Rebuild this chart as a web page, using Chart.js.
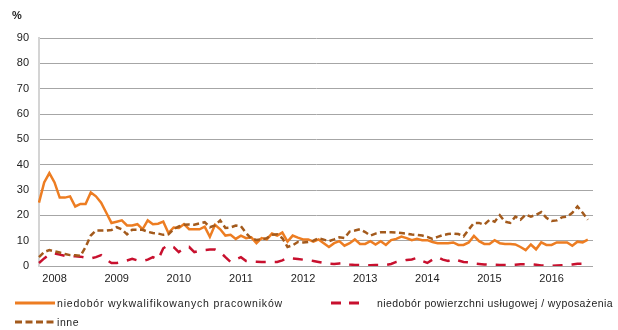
<!DOCTYPE html>
<html>
<head>
<meta charset="utf-8">
<script src="https://cdn.jsdelivr.net/npm/chart.js@4"></script>
<style>
  body { margin: 0; background: #fff; font-family: "Liberation Sans", Arial, sans-serif; }
  #wrap { position: relative; width: 618px; height: 330px; }
  #unit { position: absolute; left: 12px; top: 9px; font-size: 11px; font-weight: bold; color: #222; }
  .leg { position: absolute; height: 14px; font-size: 10.5px; color: #222; letter-spacing: 0.6px; white-space: nowrap; }
  .leg svg { position: absolute; left: 0; top: 0; }
  .leg span { position: absolute; top: 0; line-height: 14px; }
</style>
</head>
<body>
<div id="wrap">
  <canvas id="chart" width="618" height="330"></canvas>
  <div id="unit">%</div>
  <div class="leg" style="left:15px;top:296px;">
    <svg width="40" height="14"><line x1="0" y1="7" x2="40" y2="7" stroke="#ED7D22" stroke-width="3"/></svg>
    <span style="left:42px;letter-spacing:0.8px">niedobór wykwalifikowanych pracowników</span>
  </div>
  <div class="leg" style="left:331px;top:296px;">
    <svg width="34" height="14"><line x1="0" y1="7" x2="34" y2="7" stroke="#C8102E" stroke-width="3" stroke-dasharray="10,8"/></svg>
    <span style="left:46px;letter-spacing:0.4px">niedobór powierzchni usługowej / wyposażenia</span>
  </div>
  <div class="leg" style="left:15px;top:315px;">
    <svg width="40" height="14"><line x1="0" y1="7" x2="40" y2="7" stroke="#A35A1C" stroke-width="3" stroke-dasharray="7,3.5"/></svg>
    <span style="left:42px">inne</span>
  </div>
</div>
<script>
// monthly categories, Oct 2007 - Sep 2016
var months = []
for (var y = 2007; y <= 2016; y++) {
  for (var m = 1; m <= 12; m++) {
    if (y == 2007 && m < 10) continue
    if (y == 2016 && m > 9) continue
    months.push(y + "-" + (m < 10 ? "0" + m : m))
  }
}

var yTicks = [0, 10, 20, 30, 40, 50, 60, 70, 80, 90]

// niedobór wykwalifikowanych pracowników
var skilled = [
  25, 33, 36.7, 33, 27, 27, 27.5, 23.5, 24.5, 24.5,
  29, 27.5, 25, 21, 17, 17.5, 18, 16, 16, 16.5,
  14.5, 18, 16.5, 16.7, 17.5, 13, 15.2, 15, 16.5, 14.5,
  14.5, 14.5, 15.5, 11.5, 16.3, 14.5, 12, 12.3, 10.7, 12,
  11, 11.3, 9, 11, 10.5, 12.8, 12, 13.2, 9.6, 12,
  11.2, 10.5, 10.5, 9.6, 10.5,
  9, 7.5, 9, 9.8, 8, 9, 10.5, 8.7, 8.7, 9.8,
  8.5, 9.8, 8.3, 10.2, 10.7, 11.6, 11, 10.2, 10.7, 10.2,
  10.2, 9.5, 9, 9, 9, 9.3, 8.3, 8.3, 9.3, 11.9,
  9.8, 8.7, 8.7, 10.2, 9, 8.7, 8.7, 8.5, 7.5, 6.3,
  8.5, 6.6, 9.3, 8.3, 8.3, 9.3, 9.3, 9.3, 8, 9.6,
  9.3, 10.4
]

// niedobór powierzchni usługowej / wyposażenia
var space = [
  1.2, 3, 4.5, 5, 4.5, 4, 4, 3.8, 3.7, 3.3,
  3, 3.5, 4.3, 2.5, 1.2, 1.2, 1.6, 2.2, 2.8, 2.2,
  2, 2.5, 3.5, 2.5, 7, 8.3, 7.5, 5.5, 7, 7.5,
  5.5, 6, 6.3, 6.5, 6.5, 5.5, 3.5, 1.6, 2.6, 3.5,
  2, 1.8, 1.7, 1.6, 1.6, 1.6, 1.6, 2.2, 3.2, 3,
  2.8, 2.5, 2.4, 2, 1.6,
  1.2, 0.9, 0.8, 1, 1.2, 0.6, 0.4, 0.4, 0.4, 0.3,
  0.4, 0.4, 0.4, 0.8, 1.6, 2, 2.4, 2.6, 3.2, 2,
  1.2, 2.5, 3.5, 2.5, 2, 2.8, 2.2, 1.6, 1.5, 1,
  0.8, 0.6, 0.5, 0.5, 0.4, 0.4, 0.4, 0.5, 0.7, 0.7,
  0.7, 0.5, 0.2, 0.1, 0.1, 0.2, 0.3, 0.4, 0.6, 0.9,
  0.9, 0.9
]

// inne
var other = [
  3.5, 5.5, 6.3, 5.8, 5.3, 4.7, 4.3, 4.2, 4, 7.5,
  12, 14, 14, 14, 14.2, 15.3, 14.5, 12.5, 14.3, 14.3,
  14.3, 13.5, 13, 12.8, 12.3, 12.5, 14.5, 15.6, 16.3, 16.4,
  16.3, 16.8, 17.3, 15.3, 16, 18, 15, 15.2, 16, 15.7,
  13, 10.8, 10.3, 10.5, 11, 12.3, 12.5, 11, 7.5, 8.2,
  9.5, 9.3, 9.5, 10, 11,
  10.4, 9.8, 10.5, 11.3, 11, 13.6, 14, 14.5, 13.4, 12,
  12.8, 13.3, 13.3, 13.3, 13.2, 13, 12.8, 12.4, 12.3, 12,
  11.5, 10.7, 11.5, 12.2, 12.6, 12.8, 12.6, 11.7, 14.4, 17,
  17, 16.3, 18.2, 17.5, 20, 17.5, 17, 19.5, 18.3, 20.3,
  19.5, 20.2, 21.3, 19, 17.8, 18, 19.2, 19.5, 21, 23.5,
  21, 18.3
]

var ctx = document.getElementById("chart").getContext("2d")
var chart = new Chart(ctx, {
  type: "line",
  data: {
    labels: months,
    datasets: [
      {
        label: "niedobór wykwalifikowanych pracowników",
        data: skilled,
        borderColor: "#ED7D22",
        borderWidth: 2.5,
        order: 3,
      },
      {
        label: "niedobór powierzchni usługowej / wyposażenia",
        data: space,
        borderColor: "#C8102E",
        borderWidth: 2.5,
        borderDash: [10, 9],
        order: 2,
      },
      {
        label: "inne",
        data: other,
        borderColor: "#A35A1C",
        borderWidth: 2.5,
        borderDash: [6, 3.5],
        order: 1,
      },
    ],
  },
  options: {
    responsive: false,
    animation: false,
    layout: { padding: { top: 38, right: 25, bottom: 0, left: 0 } },
    elements: { point: { radius: 0 }, line: { tension: 0 } },
    plugins: { legend: { display: false }, tooltip: { enabled: false } },
    scales: {
      x: {
        offset: false,
        grid: { display: false, drawTicks: false },
        border: { display: false },
        ticks: {
          autoSkip: false,
          maxRotation: 0,
          padding: 6,
          color: "#222",
          font: { family: "Liberation Sans, Arial, sans-serif", size: 11 },
          callback: function (val, i) {
            var lab = months[i]
            return lab.slice(5) == "01" ? lab.slice(0, 4) : ""
          },
        },
        afterFit: function (scale) { scale.height = 64 },
      },
      y: {
        min: 0,
        max: 90,
        afterBuildTicks: function (scale) {
          scale.ticks = yTicks.map(function (v) { return { value: v } })
        },
        grid: { color: "#a6a6a6", lineWidth: 1, drawTicks: false },
        border: { display: true, color: "#d4d4d4", width: 2 },
        ticks: {
          padding: 10,
          color: "#222",
          font: { family: "Liberation Sans, Arial, sans-serif", size: 11 },
        },
        afterFit: function (scale) { scale.width = 39 },
      },
    },
  },
})
</script>
</body>
</html>
